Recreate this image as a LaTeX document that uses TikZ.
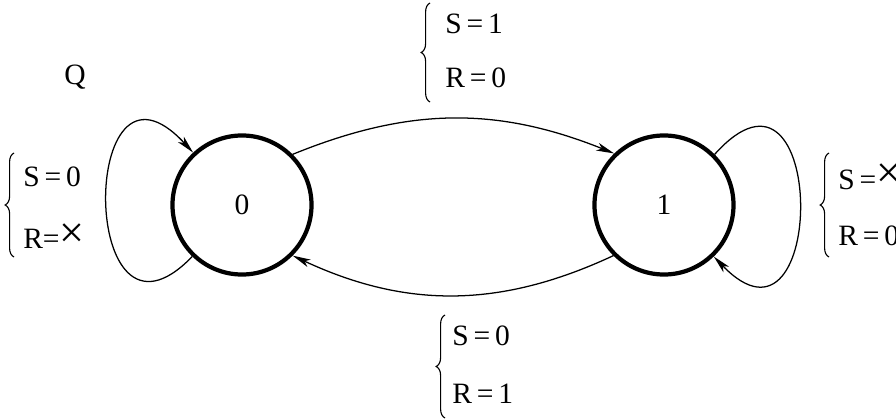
\documentclass[tikz,border=0pt]{standalone}
\usepackage{fontspec}
\usepackage{graphicx}
\setmainfont{Liberation Serif}
\newfontfamily\tmsfont{Liberation Serif}
\usetikzlibrary{arrows.meta,decorations.pathreplacing}

\newcommand{\bigx}{\raisebox{0.05em}{\scalebox{1.5}{×}}}

\tikzset{
  stnode/.style={circle, draw, line width=3pt, minimum size=3.475cm, inner sep=0pt},
  tr/.style={line width=0.9pt, -{Stealth[length=0.45cm, width=0.2cm, inset=0.12cm]}},
  brc/.style={line width=0.8pt, decorate, decoration={brace, amplitude=0.22cm}},
  lbl/.style={anchor=west, inner sep=0pt}
}

\begin{document}
\begin{tikzpicture}[x=0.025cm, y=0.025cm, font=\tmsfont\fontsize{21}{25}\selectfont]
    \useasboundingbox (0,0) rectangle (896,-420);
    % The two states.
        \node[stnode] (st0) at (242,-205) {0};
        \node[stnode] (st1) at (664,-205) {1};
    % Transitions between the states.
        \draw[tr] (st0.45) to[bend left=22] (st1.134);
        \draw[tr] (st1.225) to[bend left=25] (st0.315);
    % Self loops.
        \draw[tr] (st0.226) .. controls (78,-375) and (78,-28) .. (st0.133);
        \draw[tr] (st1.45) .. controls (828,-28) and (828,-375) .. (st1.314);
    % Below nodes are the labels.
        \node (q) at (75,-77) {Q};
        \node[lbl] (s0l) at (23,-177) {S\,=\,0};
        \node[lbl] (r0l) at (23,-236) {R=\bigx};
        \node[lbl] (s01) at (445,-24) {S\,=\,1};
        \node[lbl] (r01) at (445,-78) {R\,=\,0};
        \node[lbl] (s10) at (452,-336) {S\,=\,0};
        \node[lbl] (r10) at (452,-394) {R\,=\,1};
        \node[lbl] (s1l) at (838,-177) {S\,=\bigx};
        \node[lbl] (r1l) at (838,-236) {R\,=\,0};
    % Braces in front of the labels.
        \draw[brc] (14,-257) -- (14,-153);
        \draw[brc] (430,-102) -- (430,-3);
        \draw[brc] (445,-418) -- (445,-315);
        \draw[brc] (829,-257) -- (829,-153);
\end{tikzpicture}
\end{document}
